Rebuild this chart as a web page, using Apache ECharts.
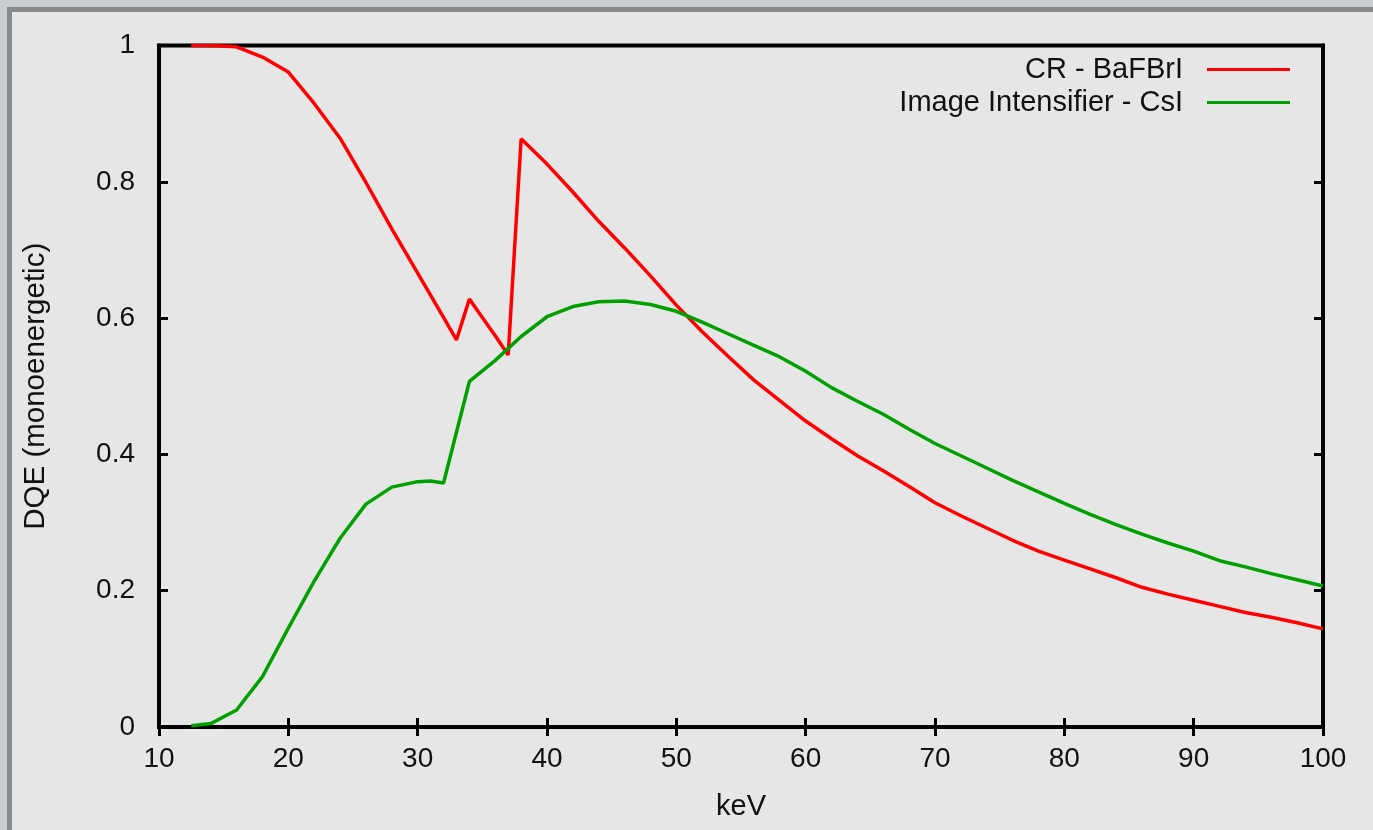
<!DOCTYPE html>
<html>
<head>
<meta charset="utf-8">
<script src="https://cdn.jsdelivr.net/npm/echarts@6/dist/echarts.min.js"></script>
<style>
	html, body { margin: 0; padding: 0; background: #c9ccd0; }
	#frame {
		position: absolute; left: 7px; top: 7px; right: 0; bottom: 0;
		background: #e6e6e6;
		border-left: 5px solid #8a8a8a;
		border-top: 5px solid #8a8a8a;
	}
	#chart { position: absolute; left: 0; top: 0; width: 1373px; height: 830px; }
</style>
</head>
<body>
<div id="frame"></div>
<div id="chart"></div>
<script>
// CR - BaFBrI
const crKeV = [12.5, 14, 16, 18, 20, 22, 24, 26, 28, 30, 32, 33, 34, 35, 36, 37, 38, 40, 42, 44, 46, 48, 50,
	52, 54, 56, 58, 60, 62, 64, 66, 68, 70, 72, 74, 76, 78, 80, 82, 84, 86, 88, 90, 92, 94, 96, 98, 100]
const crDqe = [1.0, 1.0, 0.998, 0.983, 0.961, 0.915, 0.864, 0.799, 0.731, 0.666, 0.601, 0.568, 0.628, 0.601, 0.574, 0.546, 0.863, 0.826, 0.785, 0.742,
	0.703, 0.662, 0.619, 0.580, 0.544, 0.509, 0.479, 0.449, 0.423, 0.398, 0.376, 0.353, 0.329, 0.310, 0.292, 0.274,
	0.258, 0.245, 0.232, 0.219, 0.205, 0.195, 0.186, 0.177, 0.168, 0.161, 0.153, 0.144]

// Image Intensifier - CsI
const iiKeV = [12.5, 14, 16, 18, 20, 22, 24, 26, 28, 30, 31, 32, 34, 36, 38, 40, 42, 44, 46, 48, 50,
	52, 54, 56, 58, 60, 62, 64, 66, 68, 70, 72, 74, 76, 78, 80, 82, 84, 86, 88, 90, 92, 94, 96, 98, 100]
const iiDqe = [0.002, 0.005, 0.025, 0.074, 0.145, 0.214, 0.277, 0.327, 0.352, 0.360, 0.361, 0.358, 0.507, 0.538, 0.573, 0.602,
	0.617, 0.624, 0.625, 0.620, 0.610, 0.594, 0.577, 0.560, 0.543, 0.522, 0.498, 0.478, 0.459, 0.437, 0.416,
	0.398, 0.380, 0.362, 0.345, 0.328, 0.312, 0.297, 0.283, 0.270, 0.258, 0.244, 0.235, 0.225, 0.216, 0.207]

const seriesNames = ['CR - BaFBrI', 'Image Intensifier - CsI']
const seriesColors = ['#ff0000', '#00a000']

const font = 'Liberation Sans, Arial, sans-serif'
const ink = '#111'

const pairs = (xs, ys) => xs.map((x, i) => [x, ys[i]])

const tickStyle = {
	show: true,
	inside: true,
	length: 9,
	lineStyle: { color: '#000', width: 3 }
}
const lineStyle = { color: '#000', width: 4 }

const chart = echarts.init(document.getElementById('chart'))

chart.setOption({
	backgroundColor: 'transparent',
	animation: false,
	grid: {
		left: 159,
		right: 50,
		top: 45.5,
		bottom: 103,
		show: true,
		borderColor: '#000',
		borderWidth: 4,
		backgroundColor: 'transparent'
	},
	legend: {
		data: seriesNames,
		orient: 'vertical',
		align: 'right',
		right: 83,
		top: 55,
		padding: 0,
		itemGap: 4,
		itemWidth: 83,
		itemHeight: 3,
		icon: 'rect',
		selectedMode: false,
		textStyle: {
			fontFamily: font,
			fontSize: 29,
			lineHeight: 29,
			color: ink,
			padding: [0, 19, 0, 0]
		}
	},
	xAxis: [{
		type: 'value',
		min: 10,
		max: 100,
		interval: 10,
		position: 'bottom',
		name: 'keV',
		nameLocation: 'middle',
		nameGap: 65,
		nameTextStyle: { fontFamily: font, fontSize: 29, color: ink },
		axisLine: { show: true, lineStyle },
		axisTick: tickStyle,
		axisLabel: { fontFamily: font, fontSize: 28, color: ink, margin: 18 },
		splitLine: { show: false },
		z: 3
	}, {
		type: 'value',
		min: 10,
		max: 100,
		interval: 10,
		position: 'top',
		axisLine: { show: true, lineStyle },
		axisTick: tickStyle,
		axisLabel: { show: false },
		splitLine: { show: false },
		z: 3
	}],
	yAxis: [{
		type: 'value',
		min: 0,
		max: 1,
		interval: 0.2,
		position: 'left',
		name: 'DQE (monoenergetic)',
		nameLocation: 'middle',
		nameGap: 108,
		nameTextStyle: { fontFamily: font, fontSize: 29.5, color: ink },
		axisLine: { show: true, lineStyle },
		axisTick: tickStyle,
		axisLabel: { fontFamily: font, fontSize: 28, color: ink, margin: 24 },
		splitLine: { show: false },
		z: 3
	}, {
		type: 'value',
		min: 0,
		max: 1,
		interval: 0.2,
		position: 'right',
		axisLine: { show: true, lineStyle },
		axisTick: tickStyle,
		axisLabel: { show: false },
		splitLine: { show: false },
		z: 3
	}],
	series: [{
		name: seriesNames[0],
		type: 'line',
		data: pairs(crKeV, crDqe),
		showSymbol: false,
		symbol: 'none',
		lineStyle: { color: seriesColors[0], width: 3.5 },
		itemStyle: { color: seriesColors[0] }
	}, {
		name: seriesNames[1],
		type: 'line',
		data: pairs(iiKeV, iiDqe),
		showSymbol: false,
		symbol: 'none',
		lineStyle: { color: seriesColors[1], width: 3.5 },
		itemStyle: { color: seriesColors[1] }
	}]
})
</script>
</body>
</html>
